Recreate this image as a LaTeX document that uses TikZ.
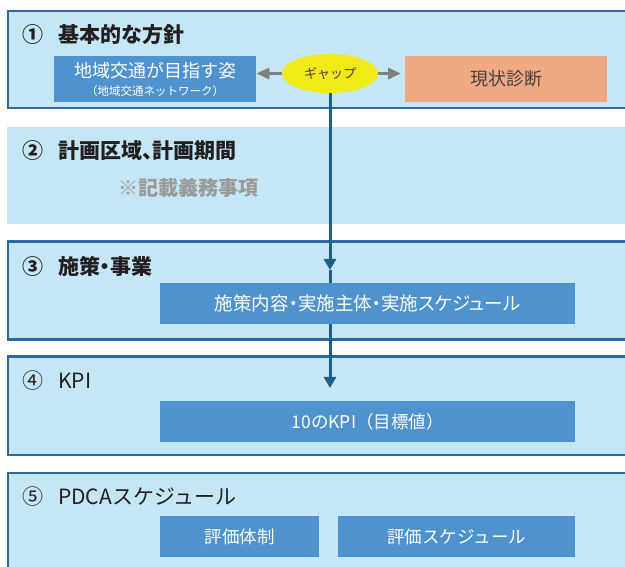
\documentclass[tikz,border=0pt]{standalone}
\usepackage{fontspec}
\setmainfont{Noto Sans CJK JP}
\newfontfamily\paltfont{Noto Sans CJK JP}[RawFeature=+palt]
\usetikzlibrary{arrows.meta,positioning,shapes}

\definecolor{panelfill}{HTML}{C4E6F5}
\definecolor{panelline}{HTML}{2C68A4}
\definecolor{boxblue}{HTML}{4E92CE}
\definecolor{diagorange}{HTML}{F1A984}
\definecolor{gapyellow}{HTML}{F2EA18}
\definecolor{flowblue}{HTML}{1D5F86}
\definecolor{arrowgray}{HTML}{7F7F7F}
\definecolor{notegray}{HTML}{9A9A9A}
\definecolor{titleblack}{HTML}{231F20}

\begin{document}
\begin{tikzpicture}[x=1pt,y=-1pt,
	panel/.style={fill=panelfill,draw=panelline,line width=2.6pt},
	title/.style={anchor=west,inner sep=0pt,text=titleblack,font=\fontsize{21}{25}\selectfont\bfseries},
	plaintitle/.style={title,font=\fontsize{21}{25}\selectfont},
	note/.style={anchor=west,inner sep=0pt,text=notegray,font=\fontsize{20}{22}\selectfont\bfseries},
	bluebox/.style={rectangle,fill=boxblue,text=white,inner sep=0pt,anchor=north west,minimum height=41pt,font=\fontsize{17.5}{20}\selectfont},
	diagbox/.style={rectangle,fill=diagorange,text=titleblack!85,inner sep=0pt,anchor=north west,font=\fontsize{18}{20}\selectfont},
	gapnode/.style={ellipse,fill=gapyellow,text=titleblack!85,inner sep=0pt,minimum width=96pt,minimum height=39pt,font=\fontsize{13}{15}\selectfont},
	grayarrow/.style={-{Triangle[width=11pt,length=13pt]},draw=arrowgray,line width=3pt},
	flow/.style={-{Triangle[width=12pt,length=11pt]},draw=flowblue,line width=3pt}
	]
\useasboundingbox (0,0) rectangle (625,567);
\clip (0,0) rectangle (625,567);

\filldraw[panel] (8,11) rectangle (660,108);
\fill[panelfill] (7,127) rectangle (660,224);
\filldraw[panel] (8,241.5) rectangle (660,339.5);
\filldraw[panel] (8,356.5) rectangle (660,455);
\filldraw[panel] (8,473) rectangle (660,600);

\node[title](t1) at (22,35) {①\hspace{15pt}基本的な方針};
\node[title](t2) at (22,151) {②\hspace{15pt}{\paltfont 計画区域、計画期間}};
\node[note](n2) at (118,188) {{\paltfont ※}記載義務事項};
\node[title](t3) at (22,266) {③\hspace{15pt}{\paltfont 施策・事業}};
\node[plaintitle](t4) at (22,381) {④\hspace{15pt}KPI};
\node[plaintitle](t5) at (22,497) {⑤\hspace{15pt}PDCAスケジュール};

\node[bluebox,minimum width=202pt,minimum height=46pt,align=center](goal) at (54,56)
	{{\fontsize{18}{20}\selectfont 地域交通が目指す姿}\\[-2pt]{\fontsize{11.5}{13}\selectfont （地域交通ネットワーク）}};
\node[gapnode](gap) at (330,73.5) {ギャップ};
\node[diagbox,minimum width=202pt,minimum height=46pt](diag) at (405,56) {現状診断};

\draw[grayarrow](gap.west) -- (gap.west -| goal.east);
\draw[grayarrow,shorten >=4pt](gap.east) -- (gap.east -| diag.west);

\coordinate (a3) at (330,270);
\coordinate (a4) at (330,388);
\draw[flow](gap.south) -- (a3);
\draw[flow](a3) -- (a4);

\node[bluebox,minimum width=415pt,font=\fontsize{18.5}{20}\selectfont](b3) at (160,283) {{\paltfont 施策内容・実施主体・実施スケジュール}};
\node[bluebox,minimum width=415pt](b4) at (160,401) {10のKPI（目標値）};
\node[bluebox,minimum width=159pt](b5a) at (160,516) {評価体制};
\node[bluebox,minimum width=237pt](b5b) at (338,516) {評価スケジュール};
\end{tikzpicture}
\end{document}
